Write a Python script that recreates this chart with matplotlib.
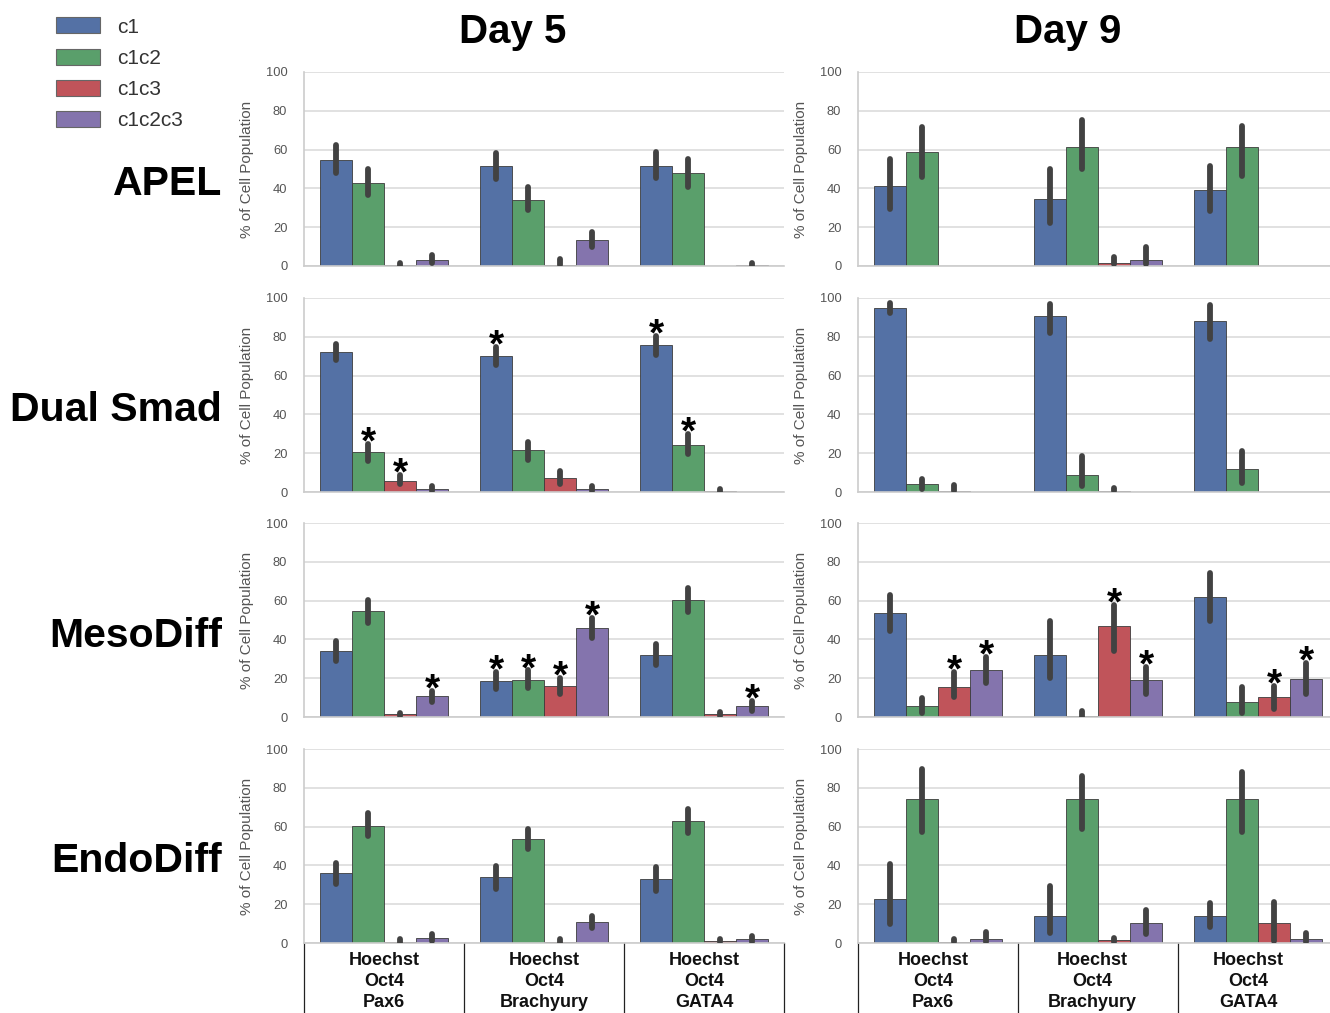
import numpy as np
import matplotlib
matplotlib.use("Agg")
import matplotlib.pyplot as plt
from matplotlib.patches import Patch

plt.rcParams['font.family'] = ['Liberation Sans', 'DejaVu Sans']

# series / groups
series = ['c1', 'c1c2', 'c1c3', 'c1c2c3']
colors = ['#5471a5', '#5a9f6b', '#c0545a', '#8474ad']
markers = ['Hoechst\nOct4\nPax6', 'Hoechst\nOct4\nBrachyury', 'Hoechst\nOct4\nGATA4']
conditions = ['APEL', 'Dual Smad', 'MesoDiff', 'EndoDiff']
days = ['Day 5', 'Day 9']

# values per group (rows of 4 = c1, c1c2, c1c3, c1c2c3); lo/hi = error bar ends
apel_d5 = [[54.6, 43.0, 0.3, 3.3], [51.5, 34.0, 0.7, 13.6], [51.5, 48.0, 0.0, 0.3]]
apel_d5_lo = [[48.1, 36.4, 0.0, 1.4], [45.0, 28.9, 0.3, 9.8], [45.4, 40.7, 0.0, 0.0]]
apel_d5_hi = [[62.2, 49.8, 1.5, 5.5], [58.0, 40.7, 3.4, 17.7], [58.8, 55.3, 0.0, 1.5]]

apel_d9 = [[41.2, 58.9, 0.0, 0.0], [34.7, 61.2, 1.5, 3.3], [39.2, 61.2, 0.0, 0.0]]
apel_d9_lo = [[29.6, 45.9, 0.0, 0.0], [22.3, 49.8, 1.0, 1.0], [28.4, 46.4, 0.0, 0.0]]
apel_d9_hi = [[55.3, 71.6, 0.0, 0.0], [49.8, 75.0, 4.6, 9.8], [51.5, 72.2, 0.0, 0.0]]

smad_d5 = [[72.2, 20.5, 5.9, 1.4], [70.0, 21.4, 7.2, 1.4], [75.9, 24.3, 0.3, 0.0]]
smad_d5_lo = [[67.8, 16.0, 4.0, 0.3], [65.5, 16.7, 4.0, 0.3], [70.7, 19.5, 0.2, 0.0]]
smad_d5_hi = [[76.4, 25.0, 9.0, 3.1], [74.7, 25.9, 10.7, 2.9], [80.5, 29.8, 1.5, 0.0]]

smad_d9 = [[95.0, 4.3, 0.7, 0.0], [90.5, 9.0, 0.3, 0.0], [88.4, 11.7, 0.0, 0.0]]
smad_d9_lo = [[92.2, 1.4, 0.5, 0.0], [82.2, 3.1, 0.5, 0.0], [78.8, 4.7, 0.0, 0.0]]
smad_d9_hi = [[97.4, 6.7, 3.6, 0.0], [97.0, 18.4, 1.9, 0.0], [96.5, 21.2, 0.0, 0.0]]

meso_d5 = [[34.0, 54.5, 1.4, 11.0], [18.3, 19.1, 16.0, 45.7], [32.2, 60.3, 1.4, 5.9]]
meso_d5_lo = [[28.8, 48.6, 0.5, 7.9], [14.5, 15.0, 11.9, 40.5], [27.0, 54.3, 0.5, 2.9]]
meso_d5_hi = [[39.1, 60.2, 2.2, 13.6], [23.1, 24.0, 20.2, 50.9], [37.8, 66.4, 2.6, 8.4]]

meso_d9 = [[53.6, 5.9, 15.3, 24.3], [32.2, 0.7, 47.0, 19.1], [61.7, 7.9, 10.2, 19.8]]
meso_d9_lo = [[44.3, 2.1, 10.2, 17.6], [20.2, 0.2, 34.0, 11.6], [49.5, 2.1, 4.3, 11.6]]
meso_d9_hi = [[62.9, 9.8, 23.1, 30.9], [49.5, 2.9, 57.8, 25.7], [74.0, 15.3, 16.2, 27.8]]

endo_d5 = [[35.9, 60.3, 0.7, 2.8], [34.0, 53.6, 0.7, 10.9], [32.9, 63.1, 1.2, 1.9]]
endo_d5_lo = [[30.3, 55.2, 0.0, 1.0], [27.9, 48.6, 0.0, 7.9], [26.9, 56.6, 0.3, 0.7]]
endo_d5_hi = [[41.0, 66.9, 1.9, 4.5], [39.7, 58.6, 1.9, 13.8], [39.0, 69.0, 2.1, 3.4]]

endo_d9 = [[22.8, 74.3, 0.7, 2.1], [14.0, 74.3, 1.4, 10.3], [14.0, 74.3, 10.3, 2.1]]
endo_d9_lo = [[10.0, 57.4, 0.3, 0.7], [5.2, 58.6, 0.5, 4.8], [8.3, 57.4, 1.0, 0.3]]
endo_d9_hi = [[40.5, 89.7, 2.2, 5.7], [29.3, 86.2, 2.8, 16.9], [20.7, 87.9, 21.2, 5.2]]

panels = [
    [(apel_d5, apel_d5_lo, apel_d5_hi), (apel_d9, apel_d9_lo, apel_d9_hi)],
    [(smad_d5, smad_d5_lo, smad_d5_hi), (smad_d9, smad_d9_lo, smad_d9_hi)],
    [(meso_d5, meso_d5_lo, meso_d5_hi), (meso_d9, meso_d9_lo, meso_d9_hi)],
    [(endo_d5, endo_d5_lo, endo_d5_hi), (endo_d9, endo_d9_lo, endo_d9_hi)],
]

# significance stars: (row, day, group, series)
stars = [(1, 0, 0, 1), (1, 0, 0, 2), (1, 0, 1, 0), (1, 0, 2, 0), (1, 0, 2, 1),
         (2, 0, 0, 3), (2, 0, 1, 0), (2, 0, 1, 1), (2, 0, 1, 2), (2, 0, 1, 3), (2, 0, 2, 3),
         (2, 1, 0, 2), (2, 1, 0, 3), (2, 1, 1, 2), (2, 1, 1, 3), (2, 1, 2, 2), (2, 1, 2, 3)]

W, H = 1330, 1013
fig = plt.figure(figsize=(W / 100, H / 100), dpi=100)

lefts = [304, 858]
tops = [72, 298, 523, 749]
ax_w, ax_h = 480, 194
offsets = [-0.3, -0.1, 0.1, 0.3]
x = np.arange(3)

axes = {}
for r in range(4):
    for d in range(2):
        ax = fig.add_axes([lefts[d] / W, 1 - (tops[r] + ax_h) / H, ax_w / W, ax_h / H])
        axes[(r, d)] = ax
        mean, lo, hi = panels[r][d]
        mean, lo, hi = np.array(mean), np.array(lo), np.array(hi)
        for s in range(4):
            xs = x + offsets[s]
            ax.bar(xs, mean[:, s], width=0.2, color=colors[s], edgecolor='#3c3c3c',
                   linewidth=0.6, zorder=2)
            for i in range(3):
                if hi[i, s] > lo[i, s]:
                    ax.plot([xs[i], xs[i]], [lo[i, s], hi[i, s]], color='#424242', lw=4.2,
                            solid_capstyle='round', zorder=3)
        ax.set_xlim(-0.5, 2.5)
        ax.set_ylim(0, 100)
        ax.set_yticks([0, 20, 40, 60, 80, 100])
        ax.set_xticks([])
        ax.grid(axis='y', color='#dcdcdc', lw=1.2, zorder=0)
        ax.set_axisbelow(True)
        for sp in ['top', 'right']:
            ax.spines[sp].set_visible(False)
        for sp in ['left', 'bottom']:
            ax.spines[sp].set_color('#cccccc')
            ax.spines[sp].set_linewidth(1.2)
        ax.tick_params(axis='y', length=0, pad=12, labelsize=9.3, labelcolor='#555555')
        ax.set_ylabel('% of Cell Population', fontsize=11, color='#555555')
        ax.yaxis.set_label_coords(-0.105, 0.5)

for (r, d, g, s) in stars:
    ax = axes[(r, d)]
    top = panels[r][d][2][g][s]
    ax.annotate('*', xy=(g + offsets[s], top), xytext=(0, -7), textcoords='offset points',
                ha='center', va='baseline', fontsize=28, fontweight='bold', zorder=4)

# marker labels and separators below the last row
label_shift = [[0.0, 0.0, 0.0], [-0.03, -0.035, -0.06]]
for d in range(2):
    ax = axes[(3, d)]
    trans = ax.get_xaxis_transform()
    for i, lab in enumerate(markers):
        ax.text(i + label_shift[d][i], -0.045, lab, transform=trans, ha='center', va='top',
                fontsize=13, fontweight='bold', linespacing=1.3, color='#111111')
    for xv in [-0.5, 0.5, 1.5, 2.5]:
        ax.plot([xv, xv], [0, -0.38], transform=trans, color='#222222', lw=0.9, clip_on=False)

# column titles
fig.text(513 / W, 1 - 43 / H, days[0], ha='center', va='baseline', fontsize=29, fontweight='bold')
fig.text(1068 / W, 1 - 43 / H, days[1], ha='center', va='baseline', fontsize=29, fontweight='bold')

# row labels
row_base = [195, 421, 647, 872]
for r in range(4):
    fig.text(222 / W, 1 - row_base[r] / H, conditions[r], ha='right', va='baseline',
             fontsize=29.5, fontweight='bold')

handles = [Patch(facecolor=c, edgecolor='#666666', lw=0.8) for c in colors]
leg = fig.legend(handles, series, loc='upper left', bbox_to_anchor=(48 / W, 1 - 9 / H),
                 frameon=False, fontsize=15, handlelength=2.1, handleheight=0.8,
                 handletextpad=0.8, labelspacing=0.58, borderaxespad=0)
for t in leg.get_texts():
    t.set_color('#333333')

fig.savefig('out.png', dpi=100)
